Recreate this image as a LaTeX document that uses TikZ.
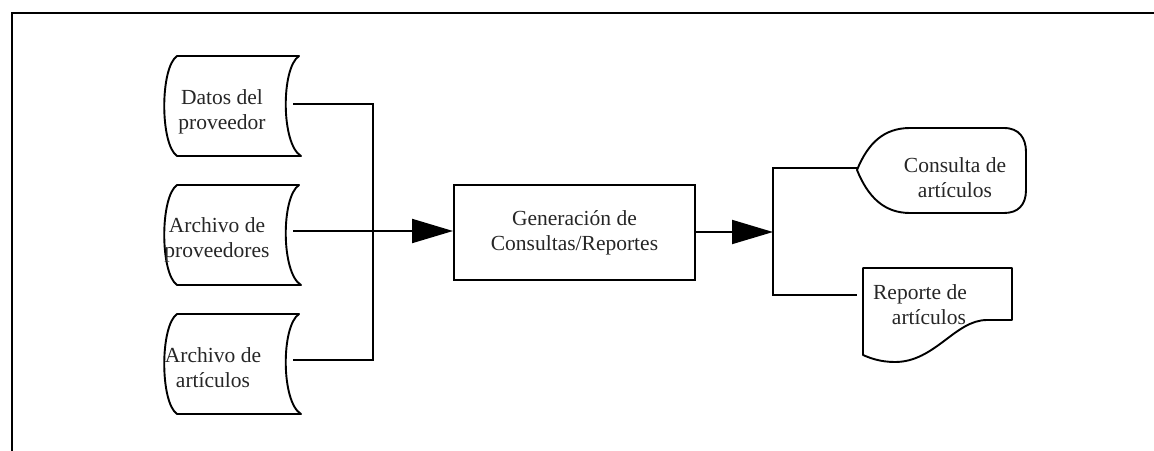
\documentclass[tikz,border=0pt]{standalone}
\usepackage{fontspec}
\setmainfont{Liberation Serif}
\usetikzlibrary{arrows.meta}
\begin{document}
\begin{tikzpicture}[x=1pt,y=-1pt,
  shp/.style={line width=1.9pt,line join=round},
  conn/.style={line width=1.9pt},
  bigarrow/.style={conn,-{Triangle[length=41pt,width=24pt]}},
  lbl/.style={align=center,inner sep=0pt,text=black!85,font=\fontsize{21.5}{25}\selectfont},
  procbox/.style={draw,line width=1.9pt,minimum width=241pt,minimum height=95pt,inner sep=0pt}]
\useasboundingbox (0,0) rectangle (1154,450);
% frame
\coordinate (fbl) at (12,452);
\coordinate (ftl) at (12,13);
\coordinate (ftr) at (1154,13);
\draw[line width=2.8pt] (fbl) -- (ftl) -- (ftr);
% stored data shapes
\foreach \cy/\nm in {106/s1,235/s2,364/s3}{
  \draw[shp] (177,\cy-50) -- (299,\cy-50)
     .. controls (281,\cy-38) and (281,\cy+38) .. (301,\cy+50)
     -- (177,\cy+50)
     .. controls (160,\cy+38) and (160,\cy-38) .. (177,\cy-50) -- cycle;
  \coordinate (\nm) at (232,\cy);
}
\node[lbl] (t1) at (222,112) {Datos del\\proveedor};
\node[lbl] (t2) at (217,240) {Archivo de\\proveedores};
\node[lbl] (t3) at (213,368) {Archivo de\\artículos};
% process
\node[procbox,lbl,draw=black] (gen) at (574.5,232.5) {Generación de\\Consultas/Reportes};
% display
\draw[shp] (857,170) .. controls (868,143) and (884,128) .. (910,128)
  -- (1004,128) .. controls (1019,128) and (1026,138) .. (1026,152)
  -- (1026,190) .. controls (1026,205) and (1018,213) .. (1004,213)
  -- (910,213) .. controls (884,213) and (868,197) .. (857,170) -- cycle;
\coordinate (disp) at (857,168);
\node[lbl] (tc) at (955,178) {Consulta de\\artículos};
% document
\draw[shp] (863,268) -- (1012,268) -- (1012,320) -- (987,320)
  .. controls (955,320) and (935,362) .. (895,362)
  .. controls (880,362) and (870,358) .. (863,355) -- cycle;
\coordinate (doc) at (857,295);
\node[lbl] (tr) at (920,305) {Reporte de\\\hspace*{18pt}artículos};
% connectors left
\coordinate (o1) at (293,104);
\coordinate (o2) at (293,231);
\coordinate (o3) at (293,360);
\coordinate (j1) at (373,104);
\coordinate (j2) at (373,231);
\coordinate (j3) at (373,360);
\draw[conn] (o1) -- (j1) -- (j3) -- (o3);
\draw[conn] (o2) -- (j2);
\draw[bigarrow] (j2) -- (gen.west |- j2);
% connectors right
\coordinate (k1) at (773,168);
\coordinate (k2) at (773,232);
\coordinate (k3) at (773,295);
\draw[bigarrow] (gen.east |- k2) -- (k2);
\draw[conn] (disp) -- (k1) -- (k3) -- (doc);
\end{tikzpicture}
\end{document}
